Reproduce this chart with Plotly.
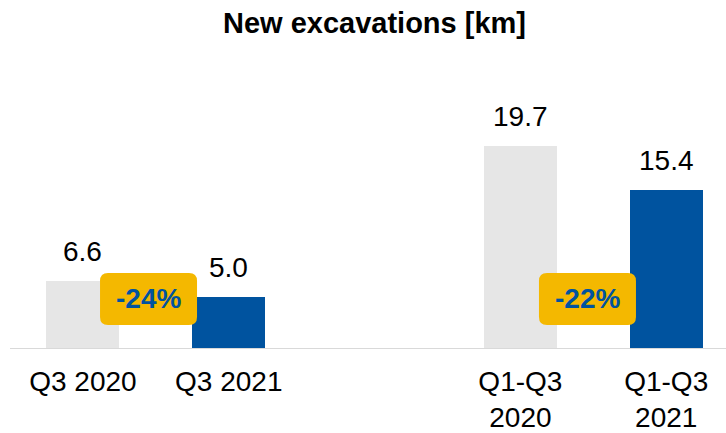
import plotly.graph_objects as go

# ---- data ----
categories = ["Q3 2020", "Q3 2021", "Q1-Q3<br>2020", "Q1-Q3<br>2021"]
values = [6.6, 5.0, 19.7, 15.4]
value_labels = ["6.6", "5.0", "19.7", "15.4"]
changes = ["-24%", "-22%"]

# ---- styling / layout ----
FONT = "Liberation Sans, Arial, sans-serif"
GREY = "#E6E6E6"
BLUE = "#00539F"
YELLOW = "#F4B800"
bar_colors = [GREY, BLUE, GREY, BLUE]
x_pos = [0, 1, 3, 4]           # two groups with an empty slot between them
badge_x = [x_pos[0] + 0.45, x_pos[2] + 0.46]
badge_y = 4.85

fig = go.Figure()
fig.add_trace(go.Bar(
    x=x_pos, y=values, width=0.5,
    marker=dict(color=bar_colors, line=dict(width=0)),
    hoverinfo="skip", showlegend=False,
))

annotations = []
for xp, v, lab in zip(x_pos, values, value_labels):
    annotations.append(dict(
        x=xp, y=v, xref="x", yref="y", text=lab, showarrow=False,
        yanchor="bottom", yshift=12,
        font=dict(family=FONT, size=28, color="#000000"),
    ))

shapes = [dict(type="line", xref="paper", x0=0, x1=1, yref="y", y0=0, y1=0,
               line=dict(color="#D9D9D9", width=2), layer="above")]

w, h, r = 48.5, 26, 8
path = (f"M {-w + r} {-h} L {w - r} {-h} Q {w} {-h} {w} {-h + r} "
        f"L {w} {h - r} Q {w} {h} {w - r} {h} L {-w + r} {h} "
        f"Q {-w} {h} {-w} {h - r} L {-w} {-h + r} Q {-w} {-h} {-w + r} {-h} Z")
for bx, txt in zip(badge_x, changes):
    shapes.append(dict(type="path", xref="x", yref="y",
                       xsizemode="pixel", ysizemode="pixel",
                       xanchor=bx, yanchor=badge_y, path=path,
                       fillcolor=YELLOW, line=dict(width=0), layer="above"))
    annotations.append(dict(
        x=bx, y=badge_y, xref="x", yref="y", text=f"<b>{txt}</b>",
        showarrow=False, xanchor="center", yanchor="middle",
        font=dict(family=FONT, size=28, color=BLUE),
    ))

fig.update_layout(
    width=726, height=433,
    margin=dict(l=10, r=0, t=122, b=84),
    paper_bgcolor="white", plot_bgcolor="white",
    title=dict(text="<b>New excavations [km]</b>", x=374.5 / 726, xref="container",
               xanchor="center", y=1 - 23 / 433, yref="container", yanchor="middle",
               font=dict(family=FONT, size=29, color="#000000")),
    xaxis=dict(range=[-0.5, 4.41], tickvals=x_pos, ticktext=categories,
               showgrid=False, zeroline=False, showline=False, ticks="",
               tickfont=dict(family=FONT, size=28, color="#000000"),
               ticklabelstandoff=13, automargin=False, fixedrange=True),
    yaxis=dict(range=[0, 22], visible=False, automargin=False, fixedrange=True),
    shapes=shapes,
    annotations=annotations,
    bargap=0,
)

fig.write_html("out.html", config={"displayModeBar": False},
               post_script="document.body.style.margin='0px';")
